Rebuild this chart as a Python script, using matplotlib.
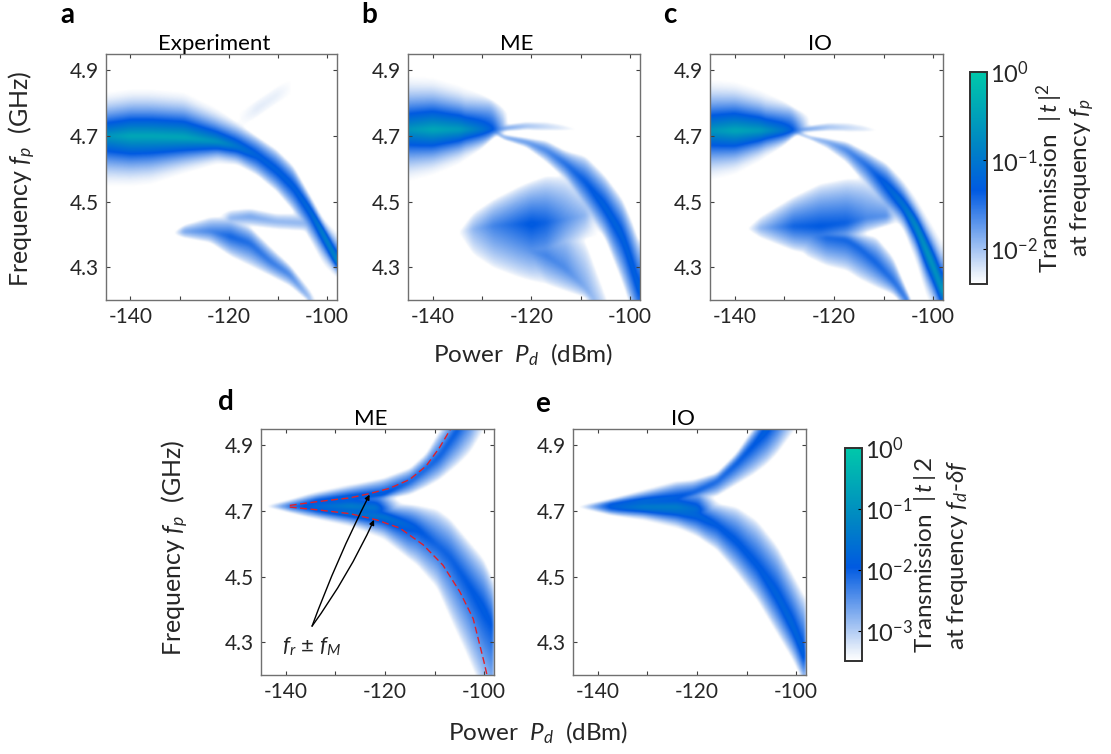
import matplotlib
matplotlib.use('Agg')
import matplotlib.pyplot as plt
from matplotlib.colors import LinearSegmentedColormap, LogNorm
from matplotlib.cm import ScalarMappable
import numpy as np

# every ridge of a map is read off the picture as: power (dBm), centre frequency,
# upper edge, lower edge of the visible band (GHz), log10 of the peak transmission

# panel a, experiment
a_main_p = [-145, -140, -136, -129.2, -122.5, -118.4, -114.4, -110.4, -107, -103.6, -100.9, -98]
a_main_f = [4.70, 4.70, 4.70, 4.696, 4.683, 4.668, 4.642, 4.596, 4.546, 4.475, 4.404, 4.312]
a_main_t = [4.84, 4.85, 4.85, 4.84, 4.79, 4.745, 4.70, 4.66, 4.61, 4.52, 4.45, 4.41]
a_main_b = [4.54, 4.54, 4.546, 4.58, 4.61, 4.61, 4.58, 4.53, 4.47, 4.38, 4.30, 4.26]
a_main_v = [-0.6, -0.36, -0.36, -0.36, -0.6, -0.96, -1.2, -1.2, -1.2, -1.08, -0.72, -0.6]
a_faint_p = [-118.4, -114.4, -110.4, -107]
a_faint_f = [4.744, 4.784, 4.825, 4.855]
a_faint_t = [4.774, 4.814, 4.855, 4.885]
a_faint_b = [4.714, 4.754, 4.795, 4.825]
a_faint_v = [-2.4, -2.25, -2.28, -2.4]
a_low_p = [-131.3, -129.2, -123.8, -119.8, -115.8, -111.7, -107.7, -103.6, -102.3]
a_low_f = [4.404, 4.409, 4.409, 4.393, 4.373, 4.317, 4.277, 4.2, 4.17]
a_low_t = [4.409, 4.429, 4.454, 4.454, 4.424, 4.363, 4.307, 4.231, 4.2]
a_low_b = [4.398, 4.388, 4.373, 4.332, 4.302, 4.272, 4.241, 4.19, 4.15]
a_low_v = [-2.4, -1.8, -1.6, -1.39, -1.44, -1.51, -1.6, -1.92, -2.4]
a_arm_p = [-121.8, -119.8, -115.8, -110.4, -105, -101.6]
a_arm_f = [4.445, 4.449, 4.454, 4.439, 4.434, 4.424]
a_arm_t = [4.465, 4.475, 4.48, 4.464, 4.464, 4.454]
a_arm_b = [4.43, 4.424, 4.424, 4.414, 4.409, 4.398]
a_arm_v = [-2.4, -1.9, -1.8, -1.9, -1.9, -1.7]

# panel b, ME
b_main_p = [-145, -140, -134.5, -130, -127.7, -125.7, -124.7]
b_main_f = [4.72, 4.72, 4.72, 4.72, 4.72, 4.72, 4.72]
b_main_t = [4.89, 4.885, 4.86, 4.83, 4.81, 4.79, 4.77]
b_main_b = [4.555, 4.575, 4.61, 4.66, 4.695, 4.71, 4.715]
b_main_v = [-0.6, -0.36, -0.5, -1.0, -1.3, -1.9, -2.4]
b_up_p = [-127.7, -125, -121, -117, -114, -110]
b_up_f = [4.718, 4.725, 4.73, 4.728, 4.724, 4.72]
b_up_t = [4.722, 4.735, 4.745, 4.745, 4.738, 4.722]
b_up_b = [4.714, 4.715, 4.718, 4.715, 4.715, 4.716]
b_up_v = [-1.3, -1.7, -1.95, -2.1, -2.2, -2.4]
b_low_p = [-127.7, -125.7, -121, -117, -113, -109, -105, -101.5, -99.5, -98]
b_low_f = [4.717, 4.697, 4.682, 4.657, 4.615, 4.56, 4.483, 4.396, 4.304, 4.222]
b_low_t = [4.72, 4.705, 4.695, 4.687, 4.656, 4.64, 4.58, 4.51, 4.44, 4.375]
b_low_b = [4.712, 4.69, 4.665, 4.62, 4.565, 4.467, 4.385, 4.25, 4.16, 4.10]
b_low_v = [-1.32, -1.68, -1.68, -1.6, -1.44, -1.32, -1.2, -1.2, -1.2, -1.2]
b_blob_p = [-134.8, -131.8, -127.7, -122.4, -120, -117, -113, -109, -106.3]
b_blob_f = [4.406, 4.416, 4.426, 4.431, 4.431, 4.436, 4.446, 4.457, 4.467]
b_blob_t = [4.41, 4.467, 4.508, 4.549, 4.564, 4.58, 4.58, 4.54, 4.498]
b_blob_b = [4.40, 4.335, 4.295, 4.265, 4.255, 4.245, 4.32, 4.383, 4.39]
b_blob_v = [-2.4, -1.92, -1.6, -1.39, -1.3, -1.39, -1.68, -1.92, -2.4]
b_arm_p = [-124.5, -122.4, -117, -113, -108.9, -104.5, -103.5]
b_arm_f = [4.37, 4.36, 4.335, 4.294, 4.233, 4.14, 4.10]
b_arm_t = [4.39, 4.42, 4.45, 4.45, 4.38, 4.20, 4.15]
b_arm_b = [4.35, 4.30, 4.245, 4.224, 4.204, 4.10, 4.05]
b_arm_v = [-2.4, -1.75, -1.6, -1.65, -1.85, -2.1, -2.4]

# panel c, IO
c_main_p = [-145, -140, -134.9, -130.2, -128.2, -126.2, -124.8]
c_main_f = [4.717, 4.717, 4.717, 4.717, 4.717, 4.717, 4.717]
c_main_t = [4.88, 4.872, 4.847, 4.81, 4.79, 4.775, 4.76]
c_main_b = [4.558, 4.577, 4.618, 4.668, 4.697, 4.71, 4.715]
c_main_v = [-0.6, -0.36, -0.5, -1.0, -1.3, -1.9, -2.4]
c_up_p = [-128, -125, -121, -117, -114, -110.5]
c_up_f = [4.716, 4.722, 4.727, 4.725, 4.721, 4.717]
c_up_t = [4.72, 4.732, 4.742, 4.742, 4.735, 4.719]
c_up_b = [4.712, 4.712, 4.715, 4.712, 4.712, 4.713]
c_up_v = [-1.3, -1.7, -1.95, -2.1, -2.2, -2.4]
c_low_p = [-128.2, -124.8, -121.5, -117.4, -113.4, -109.4, -106, -103.3, -101.3, -99.6, -98]
c_low_f = [4.714, 4.696, 4.684, 4.658, 4.612, 4.551, 4.49, 4.424, 4.353, 4.292, 4.22]
c_low_t = [4.716, 4.701, 4.694, 4.684, 4.653, 4.618, 4.567, 4.516, 4.465, 4.424, 4.383]
c_low_b = [4.711, 4.689, 4.663, 4.618, 4.546, 4.465, 4.414, 4.302, 4.2, 4.149, 4.098]
c_low_v = [-1.32, -1.8, -1.8, -1.6, -1.44, -1.2, -0.96, -0.6, -0.48, -0.48, -0.48]
c_blob_p = [-137.6, -134.9, -128.2, -122.8, -117.4, -113.4, -109.4, -106.7]
c_blob_f = [4.416, 4.419, 4.424, 4.424, 4.434, 4.449, 4.455, 4.455]
c_blob_t = [4.42, 4.455, 4.516, 4.556, 4.572, 4.572, 4.531, 4.495]
c_blob_b = [4.414, 4.388, 4.348, 4.332, 4.368, 4.404, 4.424, 4.434]
c_blob_v = [-2.4, -1.92, -1.39, -1.32, -1.37, -1.63, -1.68, -2.4]
c_arm_p = [-129, -125.5, -121.5, -117.4, -114.8, -111.4, -108, -104.7, -103.3]
c_arm_f = [4.40, 4.395, 4.39, 4.383, 4.358, 4.312, 4.256, 4.19, 4.129]
c_arm_t = [4.41, 4.42, 4.43, 4.419, 4.404, 4.393, 4.332, 4.21, 4.159]
c_arm_b = [4.38, 4.33, 4.302, 4.287, 4.261, 4.236, 4.215, 4.159, 4.098]
c_arm_v = [-2.4, -1.7, -1.42, -1.39, -1.39, -1.39, -1.44, -1.49, -1.68]

# panel d, ME
d_up_p = [-144.3, -139.2, -133.9, -127.1, -120.4, -115, -111.7, -109, -105.3, -102.9, -99.6]
d_up_f = [4.716, 4.719, 4.73, 4.74, 4.75, 4.791, 4.832, 4.868, 4.954, 5.026, 5.13]
d_up_t = [4.716, 4.73, 4.755, 4.781, 4.801, 4.832, 4.878, 4.949, 5.026, 5.088, 5.25]
d_up_b = [4.714, 4.714, 4.717, 4.725, 4.735, 4.75, 4.773, 4.796, 4.842, 4.878, 4.96]
d_up_v = [-3.43, -2.28, -1.75, -1.58, -1.75, -2.03, -2.03, -2.0, -1.93, -1.93, -2.45]
d_low_p = [-144.3, -139.2, -133.9, -127.1, -120.4, -113.7, -109.6, -107, -103.6, -100.2, -98.1]
d_low_f = [4.716, 4.711, 4.704, 4.694, 4.684, 4.648, 4.597, 4.561, 4.484, 4.402, 4.341]
d_low_t = [4.716, 4.714, 4.719, 4.728, 4.73, 4.719, 4.707, 4.679, 4.617, 4.556, 4.484]
d_low_b = [4.714, 4.707, 4.679, 4.653, 4.612, 4.535, 4.464, 4.372, 4.259, 4.137, 4.065]
d_low_v = [-3.43, -2.1, -1.75, -1.4, -1.4, -1.86, -2.03, -2.0, -1.93, -1.86, -1.93]
d_core_p = [-144.3, -139.2, -133.9, -127.1, -122, -116]
d_core_f = [4.715, 4.715, 4.715, 4.715, 4.71, 4.70]
d_core_t = [4.716, 4.735, 4.76, 4.785, 4.78, 4.72]
d_core_b = [4.714, 4.695, 4.675, 4.65, 4.63, 4.68]
d_core_v = [-3.43, -2.1, -1.6, -1.25, -1.45, -3.5]
# dashed red f_r + f_M and f_r - f_M
red_up_p = [-139.2, -133.9, -127.1, -123.1, -119.1, -115, -111.7, -109, -106.6]
red_up_f = [4.717, 4.728, 4.74, 4.753, 4.769, 4.796, 4.837, 4.893, 4.954]
red_lo_p = [-139.2, -133.9, -127.1, -121.7, -117, -112.3, -108.3, -104.9, -102.2, -100, -99.4]
red_lo_f = [4.712, 4.704, 4.692, 4.673, 4.648, 4.597, 4.535, 4.454, 4.372, 4.239, 4.199]

# panel e, IO
e_up_p = [-144.3, -137.6, -130.9, -124.2, -120.8, -116.1, -112.1, -108.7, -106, -104, -100]
e_up_f = [4.713, 4.721, 4.73, 4.74, 4.755, 4.791, 4.847, 4.903, 4.954, 4.995, 5.057]
e_up_t = [4.714, 4.735, 4.765, 4.791, 4.796, 4.817, 4.878, 4.954, 5.016, 5.057, 5.118]
e_up_b = [4.712, 4.714, 4.717, 4.725, 4.735, 4.745, 4.781, 4.811, 4.842, 4.873, 4.954]
e_up_v = [-3.5, -1.75, -1.47, -1.75, -1.93, -2.03, -1.93, -1.86, -1.75, -1.82, -2.45]
e_low_p = [-144.3, -137.6, -130.9, -124.2, -120.1, -116.1, -112.1, -108, -104, -100.6, -98.1]
e_low_f = [4.713, 4.709, 4.707, 4.701, 4.689, 4.658, 4.607, 4.535, 4.443, 4.341, 4.239]
e_low_t = [4.714, 4.717, 4.719, 4.735, 4.735, 4.725, 4.714, 4.673, 4.597, 4.505, 4.433]
e_low_b = [4.711, 4.689, 4.673, 4.648, 4.622, 4.581, 4.51, 4.428, 4.326, 4.239, 4.157]
e_low_v = [-3.5, -1.86, -1.4, -1.47, -1.68, -1.86, -1.86, -1.86, -1.75, -1.68, -1.75]
e_core_p = [-144.3, -137.6, -130.9, -124.2, -120.1, -115]
e_core_f = [4.714, 4.714, 4.714, 4.712, 4.705, 4.70]
e_core_t = [4.715, 4.737, 4.767, 4.795, 4.78, 4.72]
e_core_b = [4.712, 4.688, 4.67, 4.645, 4.63, 4.68]
e_core_v = [-3.5, -1.75, -1.25, -1.25, -1.6, -3.5]

x_ticks = [-140, -130, -120, -110, -100]
x_labels = ['-140', '', '-120', '', '-100']
y_ticks = [4.3, 4.5, 4.7, 4.9]

plt.rcParams['font.family'] = 'Lato'
plt.rcParams['mathtext.fontset'] = 'custom'
plt.rcParams['mathtext.rm'] = 'Lato'
plt.rcParams['mathtext.it'] = 'Lato:italic'
plt.rcParams['mathtext.bf'] = 'Lato:bold'

W, H = 1111., 754.
dark = '#262626'
cmap = LinearSegmentedColormap.from_list('tr', [(0, '#ffffff'), (0.05, '#e6eefa'), (0.44, '#005ae1'),
                                                (0.65, '#0084c4'), (1, '#00c8aa')])
cmap.set_under('white')

pw = np.linspace(-145, -98, 300)
fq = np.linspace(4.2, 4.95, 320)


def smooth(x, y, n=9):
    # anchors are piecewise, round the corners a little
    v = np.interp(x, y[0], y[1])
    k = np.ones(n) / n
    return np.convolve(np.pad(v, n // 2, mode='edge'), k, mode='valid')


def soften(img, n=4):
    # takes the creases out where two ridges meet
    g = np.exp(-0.5 * (np.arange(-n, n + 1) / 2.) ** 2)
    g = g / g.sum()
    img = np.pad(img, n, mode='edge')
    img = np.apply_along_axis(lambda r: np.convolve(r, g, mode='same'), 0, img)
    img = np.apply_along_axis(lambda r: np.convolve(r, g, mode='same'), 1, img)
    return img[n:-n, n:-n]


def field(ridges, low):
    floor = low - 0.1
    img = np.full((len(fq), len(pw)), floor)
    for p, f, t, b, v in ridges:
        c = smooth(pw, (p, f))
        up = np.maximum(smooth(pw, (p, t)) - c, 1e-3)
        dn = np.maximum(c - smooth(pw, (p, b)), 1e-3)
        pk = np.interp(pw, p, v)
        off = (pw < p[0]) | (pw > p[-1])
        d = fq[:, None] - c[None, :]
        u = np.where(d > 0, d / up, -d / dn)
        # strong ridges fall off fast, weak ones stay filled out to their edge
        frac = (pk - low) / -low
        k = np.clip(0.75 + (frac - 0.5) * 3.5, 0.75, 1.6)
        s = np.clip(1 - u, 0, 1) ** k[None, :]
        z = low + (pk - low) * s
        z = np.where((u >= 1) | off[None, :], floor, z)
        img = np.maximum(img, z)
    return 10. ** soften(img)


def add_axes(x0, y0, x1, y1):
    return fig.add_axes([x0 / W, 1 - y1 / H, (x1 - x0) / W, (y1 - y0) / H])


def heat(box, ridges, low, title):
    ax = add_axes(*box)
    ax.imshow(field(ridges, low), origin='lower', aspect='auto', cmap=cmap, interpolation='bilinear',
              extent=[-145, -98, 4.2, 4.95], norm=LogNorm(10. ** low, 1))
    ax.set_xlim(-145, -98)
    ax.set_ylim(4.2, 4.95)
    ax.set_xticks(x_ticks, x_labels)
    ax.set_yticks(y_ticks, ['%.1f' % y for y in y_ticks])
    ax.tick_params(direction='in', length=3, width=0.8, top=True, right=True, labelsize=15,
                   color='#404040', labelcolor=dark, pad=5)
    for s in ax.spines.values():
        s.set_color('#707070')
        s.set_linewidth(1.0)
    ax.set_title(title, fontsize=16, color='black', pad=3, x=0.47)
    return ax


def cbar(box, low, ticks, lab1, lab2, x1, x2, yc):
    cax = add_axes(*box)
    cb = fig.colorbar(ScalarMappable(LogNorm(10. ** low, 1), cmap), cax=cax)
    cb.set_ticks([10. ** t for t in ticks], labels=['$10^{%d}$' % t for t in ticks])
    cb.minorticks_off()
    cax.tick_params(direction='in', length=3, width=0.8, labelsize=17, labelcolor=dark, pad=2)
    cb.outline.set_edgecolor('#303030')
    cb.outline.set_linewidth(1.4)
    fig.text(x1 / W, 1 - yc / H, lab1, rotation=90, ha='center', va='center', fontsize=17.5, color=dark)
    fig.text(x2 / W, 1 - yc / H, lab2, rotation=90, ha='center', va='center', fontsize=17.5, color=dark)


fig = plt.figure(figsize=(W / 100, H / 100), dpi=100)

heat((105.7, 54, 337, 300), [(a_main_p, a_main_f, a_main_t, a_main_b, a_main_v),
                             (a_faint_p, a_faint_f, a_faint_t, a_faint_b, a_faint_v),
                             (a_low_p, a_low_f, a_low_t, a_low_b, a_low_v),
                             (a_arm_p, a_arm_f, a_arm_t, a_arm_b, a_arm_v)], -2.4, 'Experiment')
heat((408, 54, 640, 300), [(b_main_p, b_main_f, b_main_t, b_main_b, b_main_v),
                           (b_up_p, b_up_f, b_up_t, b_up_b, b_up_v),
                           (b_low_p, b_low_f, b_low_t, b_low_b, b_low_v),
                           (b_blob_p, b_blob_f, b_blob_t, b_blob_b, b_blob_v),
                           (b_arm_p, b_arm_f, b_arm_t, b_arm_b, b_arm_v)], -2.4, 'ME')
heat((710, 54, 943, 300), [(c_main_p, c_main_f, c_main_t, c_main_b, c_main_v),
                           (c_up_p, c_up_f, c_up_t, c_up_b, c_up_v),
                           (c_low_p, c_low_f, c_low_t, c_low_b, c_low_v),
                           (c_blob_p, c_blob_f, c_blob_t, c_blob_b, c_blob_v),
                           (c_arm_p, c_arm_f, c_arm_t, c_arm_b, c_arm_v)], -2.4, 'IO')
ax_d = heat((261, 429, 494, 675), [(d_up_p, d_up_f, d_up_t, d_up_b, d_up_v),
                                   (d_low_p, d_low_f, d_low_t, d_low_b, d_low_v),
                                   (d_core_p, d_core_f, d_core_t, d_core_b, d_core_v)], -3.5, 'ME')
heat((573, 429, 806, 675), [(e_up_p, e_up_f, e_up_t, e_up_b, e_up_v),
                            (e_low_p, e_low_f, e_low_t, e_low_b, e_low_v),
                            (e_core_p, e_core_f, e_core_t, e_core_b, e_core_v)], -3.5, 'IO')

# red guides and the two arrows of panel d
ax_d.plot(red_up_p, red_up_f, color='#e0202a', lw=1, ls=(0, (5, 2.5)))
ax_d.plot(red_lo_p, red_lo_f, color='#e0202a', lw=1, ls=(0, (5, 2.5)))
ax_d.annotate('', xy=(-123.1, 4.75), xytext=(-134.7, 4.349),
              arrowprops=dict(arrowstyle='-|>', color='black', lw=1, mutation_scale=7,
                              shrinkA=0, shrinkB=0, connectionstyle='arc3,rad=-0.03'))
ax_d.annotate('', xy=(-122.2, 4.673), xytext=(-134.7, 4.349),
              arrowprops=dict(arrowstyle='-|>', color='black', lw=1, mutation_scale=7,
                              shrinkA=0, shrinkB=0, connectionstyle='arc3,rad=0.05'))
ax_d.text(-134.8, 4.285, r'$f_r$ ± $f_M$', fontsize=16, ha='center', va='center', color=dark)

cbar((970, 72, 987, 284), -2.4, [-2, -1, 0], r'Transmission  $|\,t\,|^2$', r'at frequency $f_p$', 1050, 1082, 178)
cbar((845, 448, 862, 661), -3.5, [-3, -2, -1, 0], r'Transmission  $|\,t\,|\,2$', r'at frequency $f_d$-$\delta f$', 925, 957, 555)

for s, x, y in [('a', 67, 15), ('b', 369, 15), ('c', 670, 15), ('d', 226, 402), ('e', 543, 404)]:
    fig.text(x / W, 1 - y / H, s, fontsize=20, fontweight='bold', ha='center', va='center')

fig.text(22 / W, 1 - 179 / H, r'Frequency $f_p$  (GHz)', rotation=90, fontsize=18, ha='center', va='center', color=dark)
fig.text(175 / W, 1 - 548 / H, r'Frequency $f_p$  (GHz)', rotation=90, fontsize=18, ha='center', va='center', color=dark)
fig.text(523 / W, 1 - 355 / H, r'Power  $P_d$  (dBm)', fontsize=17.5, ha='center', va='center', color=dark)
fig.text(538 / W, 1 - 733 / H, r'Power  $P_d$  (dBm)', fontsize=17.5, ha='center', va='center', color=dark)

fig.savefig('out.png', dpi=100)
plt.close()
